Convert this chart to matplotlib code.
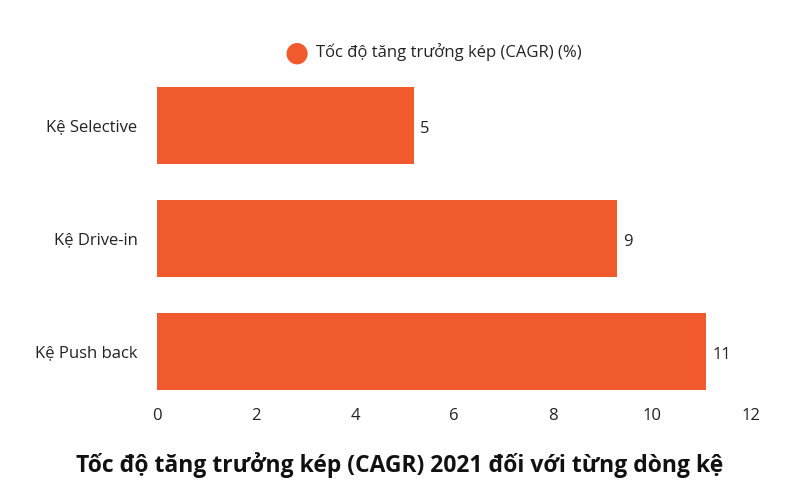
import matplotlib
matplotlib.use("Agg")
import matplotlib.pyplot as plt

categories = ["Kệ Selective", "Kệ Drive-in", "Kệ Push back"]
values = [5.2, 9.3, 11.1]
labels = ["5", "9", "11"]
series_name = "Tốc độ tăng trưởng kép (CAGR) (%)"
title = "Tốc độ tăng trưởng kép (CAGR) 2021 đối với từng dòng kệ"
color = "#F05A2C"

plt.rcParams['font.family'] = ['Open Sans', 'DejaVu Sans']
fig = plt.figure(figsize=(8, 5), dpi=100)
ax = fig.add_axes([157/800, 1-408/500, (751-157)/800, (408-69)/500])
y = list(range(len(categories)))
bars = ax.barh(y, values, height=0.69, color=color)
ax.set_yticks(y)
ax.set_yticklabels(categories, fontsize=12, color="#222222")
ax.set_xlim(0, 12)
ax.set_ylim(2.5, -0.5)
ax.set_xticks(range(0, 13, 2))
ax.tick_params(axis='x', labelsize=12, length=0, pad=0, colors="#222222")
ax.tick_params(axis='y', length=0, pad=14)
for s in ax.spines.values():
    s.set_visible(False)
for b, l in zip(bars, labels):
    ax.text(b.get_width() + 0.12, b.get_y() + b.get_height()/2 + 0.03, l,
            va='center', ha='left', fontsize=12, color="#222222")
fig.text(297/800, 1-53/500, "●", color=color, fontsize=20, ha='center', va='center', family='DejaVu Sans')
fig.text(316/800, 1-52/500, series_name, color="#222222", fontsize=12, ha='left', va='center')
fig.text(0.5, 1-465/500, title, ha='center', va='center', fontsize=16.5, fontweight='bold', color="#111111")
fig.savefig("out.png", dpi=100)
